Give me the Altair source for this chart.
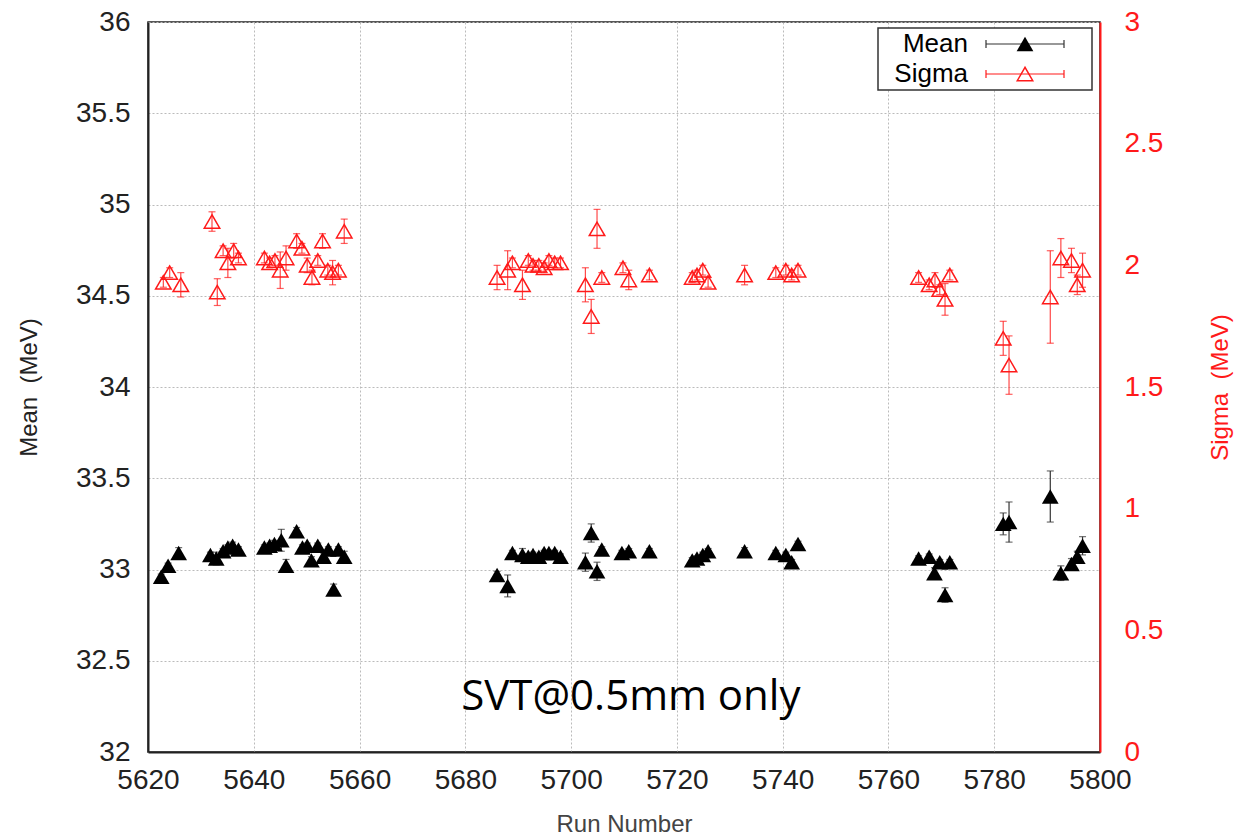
import altair as alt
import pandas as pd

# ---- Mean (MeV) ----
mean_run = [5622.5, 5623.8, 5625.8, 5631.8, 5632.9, 5634.2, 5635.1, 5636.0, 5637.1,
            5642.0, 5643.0, 5643.9, 5645.2, 5646.1, 5648.1, 5649.2, 5650.1, 5650.9,
            5652.1, 5653.2, 5654.1, 5655.1, 5656.0, 5657.1,
            5686.0, 5688.0, 5688.9, 5690.8, 5691.9, 5692.8, 5693.9, 5694.9, 5695.8,
            5696.9, 5698.0, 5702.7, 5703.8, 5704.9, 5705.8, 5709.6, 5710.9, 5714.8,
            5722.9, 5723.8, 5724.9, 5725.9, 5732.8, 5738.7, 5740.6, 5741.7, 5742.9,
            5765.7, 5767.7, 5768.7, 5769.7, 5770.7, 5771.6, 5781.7, 5782.8, 5790.6,
            5792.6, 5794.6, 5795.7, 5796.7]
mean_val = [32.96, 33.02, 33.09, 33.08, 33.06, 33.10, 33.12, 33.13, 33.11,
            33.12, 33.13, 33.14, 33.16, 33.02, 33.21, 33.12, 33.13, 33.05,
            33.13, 33.07, 33.11, 32.89, 33.11, 33.07,
            32.97, 32.91, 33.09, 33.08, 33.07, 33.08, 33.07, 33.09, 33.09,
            33.09, 33.07, 33.04, 33.20, 32.99, 33.11, 33.09, 33.10, 33.10,
            33.05, 33.06, 33.08, 33.10, 33.10, 33.09, 33.08, 33.04, 33.14,
            33.06, 33.07, 32.98, 33.04, 32.86, 33.04, 33.25, 33.26, 33.40,
            32.98, 33.03, 33.07, 33.13]
mean_err = [0.015, 0.015, 0.03, 0.015, 0.035, 0.015, 0.015, 0.02, 0.015,
            0.015, 0.015, 0.02, 0.06, 0.035, 0.02, 0.015, 0.015, 0.02,
            0.015, 0.02, 0.015, 0.03, 0.015, 0.03,
            0.02, 0.06, 0.015, 0.035, 0.015, 0.015, 0.015, 0.015, 0.015,
            0.015, 0.015, 0.05, 0.05, 0.05, 0.015, 0.015, 0.015, 0.015,
            0.015, 0.015, 0.015, 0.015, 0.02, 0.015, 0.015, 0.015, 0.015,
            0.015, 0.015, 0.03, 0.015, 0.04, 0.015, 0.06, 0.11, 0.14,
            0.04, 0.03, 0.03, 0.05]

# ---- Sigma (MeV) ----
sig_run = [5622.9, 5624.1, 5626.2, 5632.1, 5633.1, 5634.2, 5635.1, 5636.2, 5637.1,
           5642.0, 5643.0, 5644.0, 5645.0, 5646.1, 5648.1, 5649.1, 5650.1, 5651.0,
           5652.1, 5653.0, 5654.0, 5654.9, 5656.0, 5657.1,
           5686.0, 5688.0, 5688.9, 5690.8, 5691.9, 5692.8, 5693.9, 5694.9, 5695.8,
           5696.9, 5698.0, 5702.7, 5703.8, 5704.9, 5705.8, 5709.8, 5710.9, 5714.8,
           5722.9, 5723.8, 5724.9, 5725.9, 5732.8, 5738.7, 5740.6, 5741.7, 5742.9,
           5765.7, 5767.7, 5768.8, 5769.7, 5770.7, 5771.6, 5781.7, 5782.8, 5790.6,
           5792.6, 5794.6, 5795.7, 5796.7]
sig_val = [1.93, 1.97, 1.92, 2.18, 1.89, 2.06, 2.01, 2.06, 2.03,
           2.03, 2.01, 2.02, 1.98, 2.03, 2.10, 2.07, 2.00, 1.95,
           2.02, 2.10, 1.98, 1.97, 1.98, 2.14,
           1.95, 1.98, 2.01, 1.92, 2.02, 2.00, 2.00, 1.99, 2.02,
           2.01, 2.01, 1.92, 1.79, 2.15, 1.95, 1.99, 1.94, 1.96,
           1.95, 1.96, 1.98, 1.93, 1.96, 1.97, 1.98, 1.96, 1.98,
           1.95, 1.92, 1.94, 1.90, 1.86, 1.96, 1.70, 1.59, 1.87,
           2.03, 2.02, 1.92, 1.98]
sig_err = [0.02, 0.02, 0.05, 0.04, 0.055, 0.02, 0.06, 0.03, 0.02,
           0.02, 0.02, 0.02, 0.075, 0.05, 0.03, 0.02, 0.03, 0.03,
           0.02, 0.03, 0.02, 0.05, 0.02, 0.05,
           0.05, 0.08, 0.02, 0.06, 0.02, 0.02, 0.02, 0.02, 0.02,
           0.02, 0.02, 0.07, 0.07, 0.08, 0.02, 0.02, 0.04, 0.02,
           0.02, 0.02, 0.02, 0.02, 0.04, 0.02, 0.02, 0.02, 0.02,
           0.02, 0.02, 0.03, 0.02, 0.065, 0.02, 0.07, 0.12, 0.19,
           0.08, 0.05, 0.04, 0.07]

ann_text = ["SVT@0.5mm only"]
ann_run = [5711.3]
ann_mean = [32.3]

legend_labels = ["Mean", "Sigma"]

mdf = pd.DataFrame({"run": mean_run, "v": mean_val, "e": mean_err})
mdf["lo"] = mdf["v"] - mdf["e"]
mdf["hi"] = mdf["v"] + mdf["e"]
sdf = pd.DataFrame({"run": sig_run, "v": sig_val, "e": sig_err})
sdf["lo"] = sdf["v"] - sdf["e"]
sdf["hi"] = sdf["v"] + sdf["e"]
adf = pd.DataFrame({"t": ann_text, "run": ann_run, "v": ann_mean})

FONT = "Liberation Sans"
RED = "#ff1a1a"
W, H = 952, 730
MSIZE = 280
SSIZE = 240

xscale = alt.Scale(domain=[5620, 5800], nice=False, zero=False, padding=0)
xaxis = alt.Axis(values=list(range(5620, 5801, 20)), format="d", labelFont=FONT,
                 labelFontSize=28, labelColor="#222222", labelPadding=14, labelFlush=False,
                 title="Run Number", titleFont=FONT, titleFontSize=24,
                 titleFontWeight="normal", titleColor="#444444", titlePadding=18,
                 tickSize=0, domainColor="#222222", domainWidth=2,
                 grid=True, gridColor="#bbbbbb", gridDash=[2, 2], gridWidth=1)

myscale = alt.Scale(domain=[32, 36], nice=False, zero=False, padding=0)
myaxis = alt.Axis(values=[32, 32.5, 33, 33.5, 34, 34.5, 35, 35.5, 36], format="~g",
                  labelFont=FONT, labelFontSize=28, labelColor="#222222", labelPadding=18,
                  labelFlush=False,
                  title="Mean\u00a0\u00a0(MeV)", titleFont=FONT, titleFontSize=24,
                  titleFontWeight="normal", titleColor="#222222", titlePadding=34,
                  tickSize=0, domainColor="#222222", domainWidth=2, orient="left",
                  grid=True, gridColor="#bbbbbb", gridDash=[2, 2], gridWidth=1)

syscale = alt.Scale(domain=[0, 3], nice=False, zero=False, padding=0)
syaxis = alt.Axis(values=[0, 0.5, 1, 1.5, 2, 2.5, 3], format="~g", labelFont=FONT,
                  labelFontSize=28, labelColor=RED, labelPadding=24, labelFlush=False,
                  title="Sigma\u00a0\u00a0(MeV)", titleFont=FONT, titleFontSize=24,
                  titleFontWeight="normal", titleColor=RED, titlePadding=70,
                  titleAngle=270, tickSize=0, domainColor=RED, domainWidth=2,
                  orient="right", grid=False)

mbase = alt.Chart(mdf)
mean_bars = mbase.mark_rule(color="#333333", strokeWidth=1.2).encode(
    x=alt.X("run:Q", scale=xscale, axis=xaxis),
    y=alt.Y("lo:Q", scale=myscale, axis=myaxis),
    y2="hi:Q")
mean_caplo = mbase.mark_tick(orient="horizontal", size=7, thickness=1.2, color="#333333").encode(
    x=alt.X("run:Q", scale=xscale), y=alt.Y("lo:Q", scale=myscale))
mean_caphi = mbase.mark_tick(orient="horizontal", size=7, thickness=1.2, color="#333333").encode(
    x=alt.X("run:Q", scale=xscale), y=alt.Y("hi:Q", scale=myscale))
mean_pts = mbase.mark_point(shape="triangle-up", filled=True, color="black",
                            size=MSIZE, opacity=1).encode(
    x=alt.X("run:Q", scale=xscale), y=alt.Y("v:Q", scale=myscale))
ann = alt.Chart(adf).mark_text(font="Open Sans", fontSize=42, color="black").encode(
    x=alt.X("run:Q", scale=xscale), y=alt.Y("v:Q", scale=myscale), text="t:N")

sbase = alt.Chart(sdf)
sig_bars = sbase.mark_rule(color=RED, strokeWidth=1.2, opacity=0.8).encode(
    x=alt.X("run:Q", scale=xscale),
    y=alt.Y("lo:Q", scale=syscale, axis=syaxis),
    y2="hi:Q")
sig_caplo = sbase.mark_tick(orient="horizontal", size=7, thickness=1.2, color=RED).encode(
    x=alt.X("run:Q", scale=xscale), y=alt.Y("lo:Q", scale=syscale))
sig_caphi = sbase.mark_tick(orient="horizontal", size=7, thickness=1.2, color=RED).encode(
    x=alt.X("run:Q", scale=xscale), y=alt.Y("hi:Q", scale=syscale))
sig_pts = sbase.mark_point(shape="triangle-up", filled=False, color=RED,
                           size=SSIZE, strokeWidth=1.5, opacity=1).encode(
    x=alt.X("run:Q", scale=xscale), y=alt.Y("v:Q", scale=syscale))

# ---- legend box (drawn) ----
ldf = pd.DataFrame({"label": legend_labels, "col": ["black", RED]})
leg_box = alt.Chart(ldf.head(1)).mark_rect(fill="white", stroke="#333333", strokeWidth=1.5).encode(
    x=alt.value(730), x2=alt.value(944), y=alt.value(6), y2=alt.value(68))
leg_text_m = alt.Chart(ldf.head(1)).mark_text(font=FONT, fontSize=26, align="right",
                                               baseline="middle", color="black").encode(
    x=alt.value(820), y=alt.value(22), text="label:N")
leg_text_s = alt.Chart(ldf.tail(1)).mark_text(font=FONT, fontSize=26, align="right",
                                               baseline="middle", color="black").encode(
    x=alt.value(820), y=alt.value(52), text="label:N")
leg_line_m = alt.Chart(ldf.head(1)).mark_rule(color="#333333", strokeWidth=1.2).encode(
    x=alt.value(838), x2=alt.value(916), y=alt.value(22))
leg_line_s = alt.Chart(ldf.tail(1)).mark_rule(color=RED, strokeWidth=1.2).encode(
    x=alt.value(838), x2=alt.value(916), y=alt.value(52))
leg_caps = []
for yy, c in [(22, "#333333"), (52, RED)]:
    for xx in [838, 916]:
        leg_caps.append(alt.Chart(ldf.head(1)).mark_rule(color=c, strokeWidth=1.2).encode(
            x=alt.value(xx), y=alt.value(yy - 4), y2=alt.value(yy + 4)))
leg_pt_m = alt.Chart(ldf.head(1)).mark_point(shape="triangle-up", filled=True, color="black",
                                             size=MSIZE, opacity=1).encode(
    x=alt.value(877), y=alt.value(22))
leg_pt_s = alt.Chart(ldf.tail(1)).mark_point(shape="triangle-up", filled=False, color=RED,
                                             size=SSIZE, strokeWidth=1.5, opacity=1).encode(
    x=alt.value(877), y=alt.value(52))

mean_layer = alt.layer(mean_bars, mean_caplo, mean_caphi, mean_pts, ann)
sig_layer = alt.layer(sig_bars, sig_caplo, sig_caphi, sig_pts,
                      leg_box, leg_line_m, leg_line_s, *leg_caps,
                      leg_text_m, leg_text_s, leg_pt_m, leg_pt_s)

chart = alt.layer(mean_layer, sig_layer).resolve_scale(y="independent").properties(
    width=W, height=H,
    autosize=alt.AutoSizeParams(type="none"),
    padding={"left": 148, "top": 22, "right": 143, "bottom": 86},
    background="white",
).configure_view(stroke="#222222", strokeWidth=1.5)

chart.save("out.html", embed_options={"renderer": "svg", "actions": False})
